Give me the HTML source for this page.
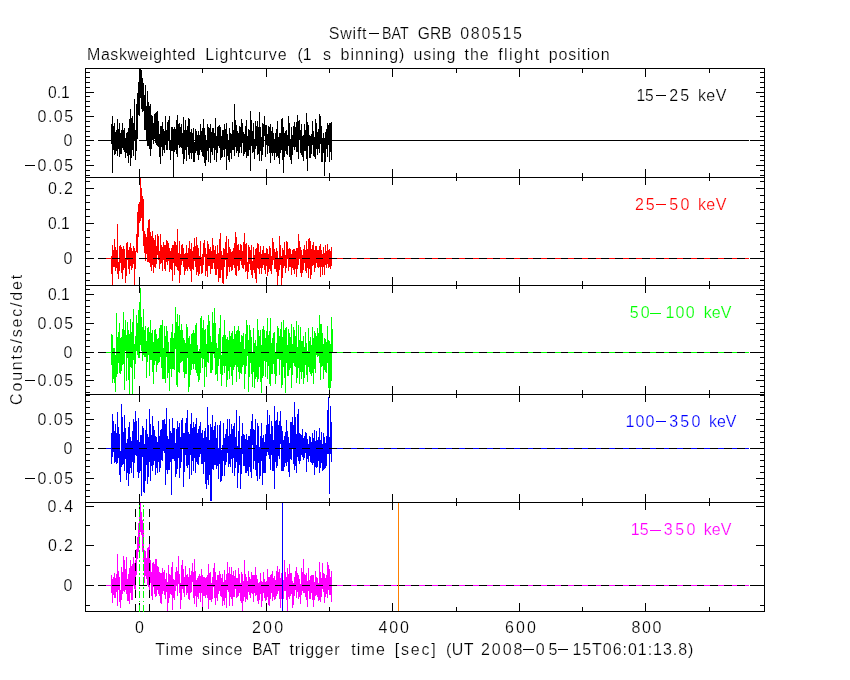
<!DOCTYPE html>
<html lang="en">
<head>
<meta charset="utf-8">
<title>Swift-BAT GRB 080515 Maskweighted Lightcurve</title>
<style>
html,body{margin:0;padding:0;background:#fff;}
body{width:850px;height:680px;overflow:hidden;position:relative;font-family:"Liberation Sans",sans-serif;}
svg{display:block;}
#plot{position:absolute;left:0;top:0;}
</style>
</head>
<body>
<div id="plot">
<svg width="850" height="680" viewBox="0 0 850 680" shape-rendering="crispEdges">
<rect x="0" y="0" width="850" height="680" fill="#fff"/>
<rect x="106" y="140" width="6" height="1" fill="#000"/>
<rect x="331" y="140" width="418" height="1" fill="#000"/>
<rect x="106" y="258" width="6" height="1" fill="#f00"/>
<rect x="331" y="258" width="418" height="1" fill="#f00"/>
<rect x="106" y="352" width="6" height="1" fill="#0f0"/>
<rect x="331" y="352" width="418" height="1" fill="#0f0"/>
<rect x="106" y="448" width="6" height="1" fill="#00f"/>
<rect x="331" y="448" width="418" height="1" fill="#00f"/>
<rect x="106" y="585" width="6" height="1" fill="#f0f"/>
<rect x="331" y="585" width="418" height="1" fill="#f0f"/>
<path d="M111 124v20M112 116v57M113 126v24M114 123v32M115 132v22M116 130v21M117 119v37M118 129v20M119 123v34M120 133v21M121 130v24M122 123v25M123 130v20M124 128v24M125 138v20M126 133v20M127 132v24M128 128v35M129 119v36M130 109v57M131 118v40M132 116v34M133 123v33M134 99v42M135 130v30M136 104v47M137 93v46M138 82v33M139 69v47M140 69v29M141 70v39M142 78v34M143 83v28M144 95v35M145 85v45M146 106v35M147 91v55M148 102v44M149 106v43M150 104v52M151 115v34M152 116v24M153 123v21M154 114v25M155 113v30M156 112v33M157 111v35M158 121v26M159 134v23M160 126v38M161 126v21M162 122v34M163 129v21M164 131v22M165 116v29M166 130v20M167 122v28M168 120v20M169 116v34M170 140v20M171 127v24M172 127v24M173 129v48M174 127v25M175 129v21M176 120v34M177 115v42M178 124v21M179 123v25M180 127v20M181 124v24M182 133v21M183 117v47M184 130v29M185 120v30M186 130v31M187 126v21M188 118v37M189 119v40M190 132v21M191 129v30M192 133v20M193 128v34M194 142v20M195 129v24M196 131v20M197 135v20M198 131v29M199 135v20M200 124v26M201 131v21M202 128v28M203 119v38M204 128v35M205 135v31M206 140v20M207 124v27M208 127v35M209 128v20M210 124v39M211 132v20M212 128v27M213 128v20M214 133v27M215 118v32M216 136v26M217 127v26M218 126v20M219 125v23M220 127v33M221 136v22M222 130v27M223 130v20M224 124v33M225 129v20M226 123v47M227 134v22M228 140v20M229 128v34M230 133v20M231 134v25M232 122v28M233 130v20M234 104v52M235 120v27M236 125v28M237 131v20M238 133v24M239 126v27M240 127v20M241 119v34M242 123v20M243 132v24M244 134v20M245 126v26M246 120v38M247 136v20M248 129v27M249 130v20M250 111v60M251 120v26M252 131v22M253 123v29M254 139v20M255 121v28M256 126v20M257 121v34M258 127v27M259 112v49M260 127v24M261 137v24M262 123v32M263 124v23M264 116v20M265 125v32M266 125v20M267 134v20M268 126v20M269 127v26M270 124v39M271 131v22M272 127v29M273 133v20M274 139v21M275 133v20M276 129v28M277 121v35M278 137v21M279 133v31M280 133v20M281 119v31M282 118v42M283 127v46M284 133v24M285 131v20M286 130v24M287 135v20M288 116v30M289 123v34M290 139v21M291 127v37M292 135v20M293 126v21M294 122v28M295 127v20M296 122v30M297 115v37M298 121v38M299 120v20M300 130v23M301 124v31M302 136v21M303 135v26M304 124v27M305 130v21M306 113v46M307 122v49M308 125v21M309 135v23M310 136v22M311 134v20M312 121v24M313 131v25M314 137v20M315 119v40M316 123v26M317 132v23M318 129v20M319 114v39M320 116v28M321 126v36M322 138v24M323 133v20M324 138v38M325 132v30M326 129v20M327 123v34M328 125v20M329 123v39M330 123v29M331 122v38" stroke="#000" stroke-width="1" fill="none" transform="translate(0.5 0)"/>
<path d="M111 256v18M112 245v40M113 250v17M114 239v28M115 247v24M116 250v18M117 224v50M118 262v17M119 246v25M120 245v18M121 247v26M122 249v30M123 246v24M124 249v19M125 258v25M126 243v33M127 242v18M128 250v19M129 247v27M130 243v23M131 248v22M132 251v17M133 246v18M134 248v37M135 251v18M136 234v18M137 212v41M138 204v33M139 202v21M140 178v43M141 188v30M142 196v35M143 199v47M144 231v22M145 234v27M146 237v17M147 228v34M148 220v42M149 219v44M150 232v35M151 236v35M152 231v34M153 238v35M154 240v27M155 235v33M156 246v18M157 234v21M158 236v24M159 251v18M160 234v30M161 245v18M162 247v24M163 242v18M164 245v24M165 245v26M166 240v22M167 241v24M168 243v18M169 248v24M170 251v18M171 248v22M172 245v36M173 245v18M174 241v34M175 242v24M176 245v22M177 229v41M178 253v18M179 241v42M180 254v21M181 245v20M182 244v17M183 248v19M184 254v21M185 253v18M186 245v24M187 253v18M188 248v19M189 241v28M190 249v22M191 243v39M192 251v18M193 247v23M194 238v23M195 246v21M196 237v38M197 245v27M198 248v28M199 256v18M200 241v25M201 257v17M202 254v19M203 243v22M204 240v17M205 248v28M206 254v17M207 241v36M208 244v22M209 249v17M210 247v27M211 251v18M212 238v31M213 245v18M214 250v19M215 246v29M216 254v21M217 245v24M218 253v29M219 239v39M220 233v45M221 251v19M222 255v28M223 248v36M224 249v18M225 242v18M226 236v43M227 253v23M228 239v28M229 247v25M230 249v18M231 252v19M232 251v19M233 248v17M234 243v25M235 232v43M236 237v39M237 245v21M238 244v27M239 250v20M240 244v17M241 245v20M242 251v17M243 242v27M244 233v32M245 244v28M246 243v28M247 262v17M248 245v27M249 247v17M250 250v20M251 245v30M252 261v17M253 247v23M254 255v18M255 249v30M256 248v35M257 243v25M258 244v25M259 252v22M260 246v22M261 254v20M262 250v18M263 246v19M264 253v17M265 253v21M266 248v18M267 249v27M268 254v18M269 246v23M270 248v23M271 256v18M272 238v27M273 242v18M274 249v20M275 252v17M276 248v24M277 251v34M278 258v18M279 236v34M280 245v20M281 256v29M282 248v30M283 250v18M284 242v24M285 255v18M286 241v27M287 242v17M288 249v22M289 248v19M290 249v18M291 254v21M292 250v18M293 249v21M294 249v25M295 251v18M296 248v29M297 248v21M298 234v31M299 241v18M300 247v26M301 250v27M302 255v18M303 249v21M304 245v18M305 250v21M306 241v32M307 249v19M308 239v39M309 238v31M310 241v38M311 249v26M312 245v21M313 242v23M314 250v22M315 246v22M316 246v17M317 250v17M318 250v18M319 246v21M320 244v33M321 250v17M322 254v21M323 247v20M324 253v22M325 245v20M326 251v17M327 244v20M328 250v18M329 249v18M330 251v18M331 247v19" stroke="#f00" stroke-width="1" fill="none" transform="translate(0.5 0)"/>
<path d="M111 334v31M112 335v48M113 348v31M114 348v35M115 355v37M116 313v64M117 337v37M118 332v31M119 323v50M120 338v36M121 337v34M122 329v36M123 312v52M124 330v60M125 320v31M126 335v46M127 322v36M128 330v50M129 334v60M130 319v48M131 332v36M132 322v72M133 309v51M134 344v35M135 336v28M136 315v36M137 323v32M138 310v48M139 302v56M140 288v57M141 317v34M142 327v34M143 309v46M144 330v27M145 326v31M146 341v37M147 328v34M148 327v28M149 332v44M150 320v40M151 333v27M152 330v42M153 342v42M154 330v35M155 329v32M156 334v38M157 339v26M158 338v25M159 328v34M160 325v32M161 325v43M162 320v59M163 348v31M164 326v53M165 336v47M166 326v31M167 331v47M168 342v31M169 353v38M170 338v31M171 332v45M172 324v45M173 338v31M174 333v37M175 307v42M176 322v63M177 314v73M178 326v46M179 315v58M180 330v33M181 324v38M182 330v31M183 338v34M184 340v38M185 343v31M186 324v50M187 327v31M188 338v54M189 336v51M190 344v31M191 334v36M192 333v31M193 330v39M194 333v31M195 325v45M196 323v50M197 345v31M198 351v31M199 349v31M200 318v55M201 316v42M202 328v40M203 320v39M204 330v57M205 329v38M206 344v33M207 325v37M208 315v48M209 321v31M210 336v37M211 342v31M212 312v58M213 323v31M214 308v50M215 323v52M216 343v31M217 348v33M218 334v32M219 328v31M220 315v59M221 355v31M222 337v38M223 335v31M224 320v53M225 335v31M226 339v48M227 337v43M228 340v31M229 331v48M230 336v31M231 333v43M232 331v54M233 339v31M234 326v41M235 334v31M236 331v51M237 330v37M238 326v46M239 331v48M240 342v31M241 335v39M242 336v31M243 333v32M244 349v40M245 334v40M246 320v46M247 325v31M248 340v52M249 325v52M250 330v33M251 337v37M252 352v35M253 328v44M254 343v45M255 340v39M256 346v31M257 319v63M258 330v49M259 336v31M260 330v52M261 345v48M262 329v49M263 326v50M264 330v31M265 338v39M266 331v31M267 318v61M268 335v31M269 331v53M270 318v68M271 343v31M272 338v36M273 333v31M274 332v42M275 353v31M276 343v33M277 326v33M278 328v31M279 336v39M280 329v31M281 322v66M282 337v48M283 320v47M284 330v48M285 328v65M286 327v36M287 345v31M288 329v47M289 333v37M290 337v31M291 324v64M292 344v31M293 327v36M294 330v36M295 336v31M296 321v62M297 347v31M298 325v43M299 340v44M300 327v45M301 341v38M302 341v31M303 336v48M304 347v31M305 332v33M306 343v32M307 351v31M308 328v39M309 341v31M310 337v37M311 345v31M312 327v46M313 338v46M314 331v38M315 333v40M316 336v19M317 328v29M318 333v23M319 315v48M320 324v56M321 324v43M322 333v33M323 344v35M324 338v32M325 339v33M326 342v31M327 326v37M328 340v48M329 341v53M330 344v44M331 317v64M332 329v24" stroke="#0f0" stroke-width="1" fill="none" transform="translate(0.5 0)"/>
<path d="M111 433v31M112 414v43M113 421v31M114 431v32M115 424v38M116 433v31M117 412v51M118 427v31M119 434v41M120 451v31M121 404v63M122 417v48M123 432v32M124 415v56M125 428v31M126 443v37M127 439v34M128 427v59M129 422v52M130 437v31M131 441v32M132 431v31M133 419v59M134 422v41M135 411v44M136 421v35M137 440v32M138 418v60M139 442v31M140 435v36M141 435v61M142 426v31M143 428v64M144 444v49M145 430v51M146 419v46M147 434v50M148 437v40M149 409v53M150 424v57M151 435v31M152 416v55M153 426v39M154 430v31M155 436v39M156 437v31M157 442v31M158 421v41M159 436v36M160 430v38M161 429v31M162 420v41M163 420v31M164 419v34M165 424v61M166 408v62M167 436v38M168 439v31M169 419v51M170 431v31M171 433v62M172 418v41M173 428v31M174 428v33M175 443v34M176 429v45M177 421v48M178 427v31M179 423v55M180 437v31M181 420v42M182 418v31M183 433v54M184 433v39M185 423v32M186 418v48M187 410v58M188 432v33M189 434v45M190 424v31M191 413v62M192 428v33M193 422v49M194 427v31M195 424v49M196 418v44M197 433v31M198 429v36M199 426v31M200 422v32M201 433v31M202 430v34M203 438v36M204 431v31M205 428v56M206 437v52M207 407v73M208 425v60M209 440v35M210 424v77M211 427v74M212 415v54M213 430v40M214 426v39M215 422v43M216 438v31M217 425v41M218 448v31M219 425v39M220 421v61M221 450v31M222 445v31M223 423v38M224 438v38M225 434v31M226 429v33M227 419v34M228 436v31M229 419v45M230 434v33M231 424v35M232 429v44M233 426v32M234 423v53M235 437v31M236 410v52M237 446v42M238 431v42M239 416v49M240 449v40M241 436v38M242 423v31M243 434v32M244 435v31M245 439v34M246 434v39M247 440v31M248 436v40M249 436v31M250 429v43M251 421v57M252 414v31M253 429v40M254 430v31M255 419v51M256 445v31M257 423v58M258 426v37M259 447v32M260 436v40M261 423v38M262 438v47M263 435v38M264 442v31M265 434v39M266 425v31M267 410v42M268 424v31M269 415v44M270 434v36M271 421v34M272 426v45M273 440v31M274 406v83M275 421v41M276 420v48M277 412v54M278 425v31M279 421v38M280 411v33M281 426v45M282 431v40M283 440v31M284 436v31M285 432v31M286 420v46M287 431v31M288 437v35M289 443v34M290 422v37M291 422v38M292 417v31M293 425v39M294 402v68M295 417v49M296 434v39M297 414v43M298 409v52M299 433v31M300 434v27M301 435v20M302 429v28M303 438v22M304 436v22M305 432v21M306 433v39M307 439v20M308 444v18M309 436v20M310 437v25M311 442v21M312 433v32M313 438v25M314 430v45M315 441v26M316 431v37M317 440v27M318 437v24M319 428v45M320 440v28M321 432v31M322 444v27M323 433v37M324 437v32M325 443v25M326 436v30M327 410v44M328 397v57M329 437v57M330 406v48M331 422v40" stroke="#00f" stroke-width="1" fill="none" transform="translate(0.5 0)"/>
<path d="M111 575v18M112 579v24M113 577v18M114 573v25M115 578v20M116 574v18M117 554v52M118 571v19M119 577v25M120 590v18M121 567v33M122 572v22M123 556v35M124 560v32M125 569v21M126 557v37M127 579v22M128 574v27M129 568v36M130 560v33M131 566v34M132 564v36M133 557v29M134 563v26M135 560v31M136 549v26M137 537v22M138 523v29M139 504v44M140 503v29M141 512v23M142 520v32M143 527v34M144 550v33M145 551v25M146 558v21M147 548v37M148 547v40M149 544v47M150 560v23M151 572v24M152 563v37M153 562v25M154 564v30M155 559v38M156 559v37M157 566v24M158 567v27M159 572v24M160 573v30M161 573v31M162 568v26M163 572v19M164 570v25M165 579v20M166 573v19M167 582v29M168 565v38M169 574v24M170 575v19M171 567v28M172 562v48M173 579v19M174 580v20M175 572v19M176 567v19M177 571v25M178 556v28M179 574v19M180 583v26M181 565v35M182 560v29M183 569v24M184 577v20M185 566v20M186 575v20M187 574v19M188 577v22M189 568v32M190 575v18M191 571v21M192 563v19M193 572v26M194 559v45M195 571v25M196 580v27M197 578v19M198 576v23M199 574v19M200 576v26M201 569v24M202 575v34M203 577v19M204 577v19M205 578v20M206 577v18M207 575v23M208 564v45M209 573v27M210 572v28M211 583v19M212 577v22M213 568v19M214 563v35M215 572v33M216 580v18M217 575v26M218 575v19M219 571v20M220 574v22M221 578v19M222 574v32M223 582v19M224 570v35M225 580v18M226 574v34M227 562v28M228 573v19M229 567v39M230 574v23M231 567v32M232 575v31M233 571v26M234 576v21M235 570v19M236 578v20M237 578v19M238 568v28M239 574v19M240 583v18M241 572v31M242 574v37M243 581v20M244 560v37M245 574v28M246 577v22M247 581v19M248 571v21M249 577v18M250 579v19M251 572v21M252 575v19M253 575v27M254 575v18M255 567v29M256 575v20M257 579v22M258 583v21M259 582v18M260 573v21M261 581v26M262 582v19M263 572v21M264 579v19M265 582v19M266 581v19M267 569v28M268 577v28M269 577v29M270 575v24M271 574v19M272 571v30M273 578v19M274 576v24M275 580v19M276 571v25M277 566v28M278 572v19M279 569v30M280 578v30M281 573v26M282 569v23M283 580v19M284 560v31M285 572v19M286 577v23M287 568v43M288 574v23M289 564v35M290 573v23M291 573v21M292 581v27M293 583v22M294 577v19M295 571v19M296 567v31M297 573v19M298 575v24M299 579v18M300 584v20M301 568v27M302 572v19M303 559v34M304 574v19M305 575v22M306 573v27M307 581v26M308 568v23M309 580v19M310 576v23M311 575v18M312 575v25M313 575v32M314 582v18M315 571v25M316 577v18M317 578v19M318 583v18M319 562v38M320 572v30M321 578v19M322 563v26M323 573v19M324 574v29M325 578v19M326 575v19M327 562v36M328 565v25M329 569v26M330 577v18M331 571v31" stroke="#f0f" stroke-width="1" fill="none" transform="translate(0.5 0)"/>
<rect x="85" y="140" width="7" height="1" fill="#000"/>
<rect x="98" y="140" width="8" height="1" fill="#000"/>
<rect x="112" y="140" width="8" height="1" fill="#000"/>
<rect x="125" y="140" width="8" height="1" fill="#000"/>
<rect x="139" y="140" width="8" height="1" fill="#000"/>
<rect x="153" y="140" width="7" height="1" fill="#000"/>
<rect x="166" y="140" width="8" height="1" fill="#000"/>
<rect x="180" y="140" width="8" height="1" fill="#000"/>
<rect x="193" y="140" width="8" height="1" fill="#000"/>
<rect x="207" y="140" width="8" height="1" fill="#000"/>
<rect x="221" y="140" width="7" height="1" fill="#000"/>
<rect x="234" y="140" width="8" height="1" fill="#000"/>
<rect x="248" y="140" width="7" height="1" fill="#000"/>
<rect x="261" y="140" width="8" height="1" fill="#000"/>
<rect x="275" y="140" width="8" height="1" fill="#000"/>
<rect x="289" y="140" width="7" height="1" fill="#000"/>
<rect x="302" y="140" width="8" height="1" fill="#000"/>
<rect x="316" y="140" width="7" height="1" fill="#000"/>
<rect x="329" y="140" width="8" height="1" fill="#000"/>
<rect x="343" y="140" width="8" height="1" fill="#000"/>
<rect x="357" y="140" width="7" height="1" fill="#000"/>
<rect x="370" y="140" width="8" height="1" fill="#000"/>
<rect x="384" y="140" width="7" height="1" fill="#000"/>
<rect x="397" y="140" width="8" height="1" fill="#000"/>
<rect x="411" y="140" width="8" height="1" fill="#000"/>
<rect x="425" y="140" width="7" height="1" fill="#000"/>
<rect x="438" y="140" width="8" height="1" fill="#000"/>
<rect x="452" y="140" width="7" height="1" fill="#000"/>
<rect x="465" y="140" width="8" height="1" fill="#000"/>
<rect x="479" y="140" width="8" height="1" fill="#000"/>
<rect x="493" y="140" width="7" height="1" fill="#000"/>
<rect x="506" y="140" width="8" height="1" fill="#000"/>
<rect x="520" y="140" width="8" height="1" fill="#000"/>
<rect x="533" y="140" width="8" height="1" fill="#000"/>
<rect x="547" y="140" width="8" height="1" fill="#000"/>
<rect x="561" y="140" width="7" height="1" fill="#000"/>
<rect x="574" y="140" width="8" height="1" fill="#000"/>
<rect x="588" y="140" width="8" height="1" fill="#000"/>
<rect x="601" y="140" width="8" height="1" fill="#000"/>
<rect x="615" y="140" width="8" height="1" fill="#000"/>
<rect x="629" y="140" width="7" height="1" fill="#000"/>
<rect x="642" y="140" width="8" height="1" fill="#000"/>
<rect x="656" y="140" width="8" height="1" fill="#000"/>
<rect x="669" y="140" width="8" height="1" fill="#000"/>
<rect x="683" y="140" width="8" height="1" fill="#000"/>
<rect x="697" y="140" width="7" height="1" fill="#000"/>
<rect x="710" y="140" width="8" height="1" fill="#000"/>
<rect x="724" y="140" width="8" height="1" fill="#000"/>
<rect x="737" y="140" width="8" height="1" fill="#000"/>
<rect x="751" y="140" width="8" height="1" fill="#000"/>
<rect x="85" y="258" width="7" height="1" fill="#000"/>
<rect x="98" y="258" width="8" height="1" fill="#000"/>
<rect x="112" y="258" width="8" height="1" fill="#000"/>
<rect x="125" y="258" width="8" height="1" fill="#000"/>
<rect x="139" y="258" width="8" height="1" fill="#000"/>
<rect x="153" y="258" width="7" height="1" fill="#000"/>
<rect x="166" y="258" width="8" height="1" fill="#000"/>
<rect x="180" y="258" width="8" height="1" fill="#000"/>
<rect x="193" y="258" width="8" height="1" fill="#000"/>
<rect x="207" y="258" width="8" height="1" fill="#000"/>
<rect x="221" y="258" width="7" height="1" fill="#000"/>
<rect x="234" y="258" width="8" height="1" fill="#000"/>
<rect x="248" y="258" width="7" height="1" fill="#000"/>
<rect x="261" y="258" width="8" height="1" fill="#000"/>
<rect x="275" y="258" width="8" height="1" fill="#000"/>
<rect x="289" y="258" width="7" height="1" fill="#000"/>
<rect x="302" y="258" width="8" height="1" fill="#000"/>
<rect x="316" y="258" width="7" height="1" fill="#000"/>
<rect x="329" y="258" width="8" height="1" fill="#000"/>
<rect x="343" y="258" width="8" height="1" fill="#000"/>
<rect x="357" y="258" width="7" height="1" fill="#000"/>
<rect x="370" y="258" width="8" height="1" fill="#000"/>
<rect x="384" y="258" width="7" height="1" fill="#000"/>
<rect x="397" y="258" width="8" height="1" fill="#000"/>
<rect x="411" y="258" width="8" height="1" fill="#000"/>
<rect x="425" y="258" width="7" height="1" fill="#000"/>
<rect x="438" y="258" width="8" height="1" fill="#000"/>
<rect x="452" y="258" width="7" height="1" fill="#000"/>
<rect x="465" y="258" width="8" height="1" fill="#000"/>
<rect x="479" y="258" width="8" height="1" fill="#000"/>
<rect x="493" y="258" width="7" height="1" fill="#000"/>
<rect x="506" y="258" width="8" height="1" fill="#000"/>
<rect x="520" y="258" width="8" height="1" fill="#000"/>
<rect x="533" y="258" width="8" height="1" fill="#000"/>
<rect x="547" y="258" width="8" height="1" fill="#000"/>
<rect x="561" y="258" width="7" height="1" fill="#000"/>
<rect x="574" y="258" width="8" height="1" fill="#000"/>
<rect x="588" y="258" width="8" height="1" fill="#000"/>
<rect x="601" y="258" width="8" height="1" fill="#000"/>
<rect x="615" y="258" width="8" height="1" fill="#000"/>
<rect x="629" y="258" width="7" height="1" fill="#000"/>
<rect x="642" y="258" width="8" height="1" fill="#000"/>
<rect x="656" y="258" width="8" height="1" fill="#000"/>
<rect x="669" y="258" width="8" height="1" fill="#000"/>
<rect x="683" y="258" width="8" height="1" fill="#000"/>
<rect x="697" y="258" width="7" height="1" fill="#000"/>
<rect x="710" y="258" width="8" height="1" fill="#000"/>
<rect x="724" y="258" width="8" height="1" fill="#000"/>
<rect x="737" y="258" width="8" height="1" fill="#000"/>
<rect x="751" y="258" width="8" height="1" fill="#000"/>
<rect x="85" y="352" width="7" height="1" fill="#000"/>
<rect x="98" y="352" width="8" height="1" fill="#000"/>
<rect x="112" y="352" width="8" height="1" fill="#000"/>
<rect x="125" y="352" width="8" height="1" fill="#000"/>
<rect x="139" y="352" width="8" height="1" fill="#000"/>
<rect x="153" y="352" width="7" height="1" fill="#000"/>
<rect x="166" y="352" width="8" height="1" fill="#000"/>
<rect x="180" y="352" width="8" height="1" fill="#000"/>
<rect x="193" y="352" width="8" height="1" fill="#000"/>
<rect x="207" y="352" width="8" height="1" fill="#000"/>
<rect x="221" y="352" width="7" height="1" fill="#000"/>
<rect x="234" y="352" width="8" height="1" fill="#000"/>
<rect x="248" y="352" width="7" height="1" fill="#000"/>
<rect x="261" y="352" width="8" height="1" fill="#000"/>
<rect x="275" y="352" width="8" height="1" fill="#000"/>
<rect x="289" y="352" width="7" height="1" fill="#000"/>
<rect x="302" y="352" width="8" height="1" fill="#000"/>
<rect x="316" y="352" width="7" height="1" fill="#000"/>
<rect x="329" y="352" width="8" height="1" fill="#000"/>
<rect x="343" y="352" width="8" height="1" fill="#000"/>
<rect x="357" y="352" width="7" height="1" fill="#000"/>
<rect x="370" y="352" width="8" height="1" fill="#000"/>
<rect x="384" y="352" width="7" height="1" fill="#000"/>
<rect x="397" y="352" width="8" height="1" fill="#000"/>
<rect x="411" y="352" width="8" height="1" fill="#000"/>
<rect x="425" y="352" width="7" height="1" fill="#000"/>
<rect x="438" y="352" width="8" height="1" fill="#000"/>
<rect x="452" y="352" width="7" height="1" fill="#000"/>
<rect x="465" y="352" width="8" height="1" fill="#000"/>
<rect x="479" y="352" width="8" height="1" fill="#000"/>
<rect x="493" y="352" width="7" height="1" fill="#000"/>
<rect x="506" y="352" width="8" height="1" fill="#000"/>
<rect x="520" y="352" width="8" height="1" fill="#000"/>
<rect x="533" y="352" width="8" height="1" fill="#000"/>
<rect x="547" y="352" width="8" height="1" fill="#000"/>
<rect x="561" y="352" width="7" height="1" fill="#000"/>
<rect x="574" y="352" width="8" height="1" fill="#000"/>
<rect x="588" y="352" width="8" height="1" fill="#000"/>
<rect x="601" y="352" width="8" height="1" fill="#000"/>
<rect x="615" y="352" width="8" height="1" fill="#000"/>
<rect x="629" y="352" width="7" height="1" fill="#000"/>
<rect x="642" y="352" width="8" height="1" fill="#000"/>
<rect x="656" y="352" width="8" height="1" fill="#000"/>
<rect x="669" y="352" width="8" height="1" fill="#000"/>
<rect x="683" y="352" width="8" height="1" fill="#000"/>
<rect x="697" y="352" width="7" height="1" fill="#000"/>
<rect x="710" y="352" width="8" height="1" fill="#000"/>
<rect x="724" y="352" width="8" height="1" fill="#000"/>
<rect x="737" y="352" width="8" height="1" fill="#000"/>
<rect x="751" y="352" width="8" height="1" fill="#000"/>
<rect x="85" y="448" width="7" height="1" fill="#000"/>
<rect x="98" y="448" width="8" height="1" fill="#000"/>
<rect x="112" y="448" width="8" height="1" fill="#000"/>
<rect x="125" y="448" width="8" height="1" fill="#000"/>
<rect x="139" y="448" width="8" height="1" fill="#000"/>
<rect x="153" y="448" width="7" height="1" fill="#000"/>
<rect x="166" y="448" width="8" height="1" fill="#000"/>
<rect x="180" y="448" width="8" height="1" fill="#000"/>
<rect x="193" y="448" width="8" height="1" fill="#000"/>
<rect x="207" y="448" width="8" height="1" fill="#000"/>
<rect x="221" y="448" width="7" height="1" fill="#000"/>
<rect x="234" y="448" width="8" height="1" fill="#000"/>
<rect x="248" y="448" width="7" height="1" fill="#000"/>
<rect x="261" y="448" width="8" height="1" fill="#000"/>
<rect x="275" y="448" width="8" height="1" fill="#000"/>
<rect x="289" y="448" width="7" height="1" fill="#000"/>
<rect x="302" y="448" width="8" height="1" fill="#000"/>
<rect x="316" y="448" width="7" height="1" fill="#000"/>
<rect x="329" y="448" width="8" height="1" fill="#000"/>
<rect x="343" y="448" width="8" height="1" fill="#000"/>
<rect x="357" y="448" width="7" height="1" fill="#000"/>
<rect x="370" y="448" width="8" height="1" fill="#000"/>
<rect x="384" y="448" width="7" height="1" fill="#000"/>
<rect x="397" y="448" width="8" height="1" fill="#000"/>
<rect x="411" y="448" width="8" height="1" fill="#000"/>
<rect x="425" y="448" width="7" height="1" fill="#000"/>
<rect x="438" y="448" width="8" height="1" fill="#000"/>
<rect x="452" y="448" width="7" height="1" fill="#000"/>
<rect x="465" y="448" width="8" height="1" fill="#000"/>
<rect x="479" y="448" width="8" height="1" fill="#000"/>
<rect x="493" y="448" width="7" height="1" fill="#000"/>
<rect x="506" y="448" width="8" height="1" fill="#000"/>
<rect x="520" y="448" width="8" height="1" fill="#000"/>
<rect x="533" y="448" width="8" height="1" fill="#000"/>
<rect x="547" y="448" width="8" height="1" fill="#000"/>
<rect x="561" y="448" width="7" height="1" fill="#000"/>
<rect x="574" y="448" width="8" height="1" fill="#000"/>
<rect x="588" y="448" width="8" height="1" fill="#000"/>
<rect x="601" y="448" width="8" height="1" fill="#000"/>
<rect x="615" y="448" width="8" height="1" fill="#000"/>
<rect x="629" y="448" width="7" height="1" fill="#000"/>
<rect x="642" y="448" width="8" height="1" fill="#000"/>
<rect x="656" y="448" width="8" height="1" fill="#000"/>
<rect x="669" y="448" width="8" height="1" fill="#000"/>
<rect x="683" y="448" width="8" height="1" fill="#000"/>
<rect x="697" y="448" width="7" height="1" fill="#000"/>
<rect x="710" y="448" width="8" height="1" fill="#000"/>
<rect x="724" y="448" width="8" height="1" fill="#000"/>
<rect x="737" y="448" width="8" height="1" fill="#000"/>
<rect x="751" y="448" width="8" height="1" fill="#000"/>
<rect x="85" y="585" width="7" height="1" fill="#000"/>
<rect x="98" y="585" width="8" height="1" fill="#000"/>
<rect x="112" y="585" width="8" height="1" fill="#000"/>
<rect x="125" y="585" width="8" height="1" fill="#000"/>
<rect x="139" y="585" width="8" height="1" fill="#000"/>
<rect x="153" y="585" width="7" height="1" fill="#000"/>
<rect x="166" y="585" width="8" height="1" fill="#000"/>
<rect x="180" y="585" width="8" height="1" fill="#000"/>
<rect x="193" y="585" width="8" height="1" fill="#000"/>
<rect x="207" y="585" width="8" height="1" fill="#000"/>
<rect x="221" y="585" width="7" height="1" fill="#000"/>
<rect x="234" y="585" width="8" height="1" fill="#000"/>
<rect x="248" y="585" width="7" height="1" fill="#000"/>
<rect x="261" y="585" width="8" height="1" fill="#000"/>
<rect x="275" y="585" width="8" height="1" fill="#000"/>
<rect x="289" y="585" width="7" height="1" fill="#000"/>
<rect x="302" y="585" width="8" height="1" fill="#000"/>
<rect x="316" y="585" width="7" height="1" fill="#000"/>
<rect x="329" y="585" width="8" height="1" fill="#000"/>
<rect x="343" y="585" width="8" height="1" fill="#000"/>
<rect x="357" y="585" width="7" height="1" fill="#000"/>
<rect x="370" y="585" width="8" height="1" fill="#000"/>
<rect x="384" y="585" width="7" height="1" fill="#000"/>
<rect x="397" y="585" width="8" height="1" fill="#000"/>
<rect x="411" y="585" width="8" height="1" fill="#000"/>
<rect x="425" y="585" width="7" height="1" fill="#000"/>
<rect x="438" y="585" width="8" height="1" fill="#000"/>
<rect x="452" y="585" width="7" height="1" fill="#000"/>
<rect x="465" y="585" width="8" height="1" fill="#000"/>
<rect x="479" y="585" width="8" height="1" fill="#000"/>
<rect x="493" y="585" width="7" height="1" fill="#000"/>
<rect x="506" y="585" width="8" height="1" fill="#000"/>
<rect x="520" y="585" width="8" height="1" fill="#000"/>
<rect x="533" y="585" width="8" height="1" fill="#000"/>
<rect x="547" y="585" width="8" height="1" fill="#000"/>
<rect x="561" y="585" width="7" height="1" fill="#000"/>
<rect x="574" y="585" width="8" height="1" fill="#000"/>
<rect x="588" y="585" width="8" height="1" fill="#000"/>
<rect x="601" y="585" width="8" height="1" fill="#000"/>
<rect x="615" y="585" width="8" height="1" fill="#000"/>
<rect x="629" y="585" width="7" height="1" fill="#000"/>
<rect x="642" y="585" width="8" height="1" fill="#000"/>
<rect x="656" y="585" width="8" height="1" fill="#000"/>
<rect x="669" y="585" width="8" height="1" fill="#000"/>
<rect x="683" y="585" width="8" height="1" fill="#000"/>
<rect x="697" y="585" width="7" height="1" fill="#000"/>
<rect x="710" y="585" width="8" height="1" fill="#000"/>
<rect x="724" y="585" width="8" height="1" fill="#000"/>
<rect x="737" y="585" width="8" height="1" fill="#000"/>
<rect x="751" y="585" width="8" height="1" fill="#000"/>
<rect x="750" y="140" width="15" height="1" fill="#000"/>
<rect x="85" y="140" width="9" height="1" fill="#000"/>
<rect x="750" y="258" width="15" height="1" fill="#000"/>
<rect x="85" y="258" width="9" height="1" fill="#000"/>
<rect x="750" y="352" width="15" height="1" fill="#000"/>
<rect x="85" y="352" width="9" height="1" fill="#000"/>
<rect x="750" y="448" width="15" height="1" fill="#000"/>
<rect x="85" y="448" width="9" height="1" fill="#000"/>
<rect x="750" y="585" width="15" height="1" fill="#000"/>
<rect x="85" y="585" width="9" height="1" fill="#000"/>
<rect x="85" y="68" width="680" height="1" fill="#000"/>
<rect x="85" y="177" width="680" height="1" fill="#000"/>
<rect x="85" y="285" width="680" height="1" fill="#000"/>
<rect x="85" y="394" width="680" height="1" fill="#000"/>
<rect x="85" y="502" width="680" height="1" fill="#000"/>
<rect x="85" y="611" width="680" height="1" fill="#000"/>
<rect x="85" y="68" width="1" height="544" fill="#000"/>
<rect x="764" y="68" width="1" height="544" fill="#000"/>
<rect x="139" y="68" width="1" height="9" fill="#000"/>
<rect x="266" y="68" width="1" height="9" fill="#000"/>
<rect x="392" y="68" width="1" height="9" fill="#000"/>
<rect x="519" y="68" width="1" height="9" fill="#000"/>
<rect x="645" y="68" width="1" height="9" fill="#000"/>
<rect x="202" y="68" width="1" height="5" fill="#000"/>
<rect x="329" y="68" width="1" height="5" fill="#000"/>
<rect x="456" y="68" width="1" height="5" fill="#000"/>
<rect x="582" y="68" width="1" height="5" fill="#000"/>
<rect x="709" y="68" width="1" height="5" fill="#000"/>
<rect x="139" y="169" width="1" height="16" fill="#000"/>
<rect x="266" y="169" width="1" height="16" fill="#000"/>
<rect x="392" y="169" width="1" height="16" fill="#000"/>
<rect x="519" y="169" width="1" height="16" fill="#000"/>
<rect x="645" y="169" width="1" height="16" fill="#000"/>
<rect x="202" y="173" width="1" height="8" fill="#000"/>
<rect x="329" y="173" width="1" height="8" fill="#000"/>
<rect x="456" y="173" width="1" height="8" fill="#000"/>
<rect x="582" y="173" width="1" height="8" fill="#000"/>
<rect x="709" y="173" width="1" height="8" fill="#000"/>
<rect x="139" y="277" width="1" height="16" fill="#000"/>
<rect x="266" y="277" width="1" height="16" fill="#000"/>
<rect x="392" y="277" width="1" height="16" fill="#000"/>
<rect x="519" y="277" width="1" height="16" fill="#000"/>
<rect x="645" y="277" width="1" height="16" fill="#000"/>
<rect x="202" y="281" width="1" height="8" fill="#000"/>
<rect x="329" y="281" width="1" height="8" fill="#000"/>
<rect x="456" y="281" width="1" height="8" fill="#000"/>
<rect x="582" y="281" width="1" height="8" fill="#000"/>
<rect x="709" y="281" width="1" height="8" fill="#000"/>
<rect x="139" y="386" width="1" height="16" fill="#000"/>
<rect x="266" y="386" width="1" height="16" fill="#000"/>
<rect x="392" y="386" width="1" height="16" fill="#000"/>
<rect x="519" y="386" width="1" height="16" fill="#000"/>
<rect x="645" y="386" width="1" height="16" fill="#000"/>
<rect x="202" y="390" width="1" height="8" fill="#000"/>
<rect x="329" y="390" width="1" height="8" fill="#000"/>
<rect x="456" y="390" width="1" height="8" fill="#000"/>
<rect x="582" y="390" width="1" height="8" fill="#000"/>
<rect x="709" y="390" width="1" height="8" fill="#000"/>
<rect x="139" y="494" width="1" height="16" fill="#000"/>
<rect x="266" y="494" width="1" height="16" fill="#000"/>
<rect x="392" y="494" width="1" height="16" fill="#000"/>
<rect x="519" y="494" width="1" height="16" fill="#000"/>
<rect x="645" y="494" width="1" height="16" fill="#000"/>
<rect x="202" y="498" width="1" height="8" fill="#000"/>
<rect x="329" y="498" width="1" height="8" fill="#000"/>
<rect x="456" y="498" width="1" height="8" fill="#000"/>
<rect x="582" y="498" width="1" height="8" fill="#000"/>
<rect x="709" y="498" width="1" height="8" fill="#000"/>
<rect x="139" y="603" width="1" height="9" fill="#000"/>
<rect x="266" y="603" width="1" height="9" fill="#000"/>
<rect x="392" y="603" width="1" height="9" fill="#000"/>
<rect x="519" y="603" width="1" height="9" fill="#000"/>
<rect x="645" y="603" width="1" height="9" fill="#000"/>
<rect x="202" y="607" width="1" height="5" fill="#000"/>
<rect x="329" y="607" width="1" height="5" fill="#000"/>
<rect x="456" y="607" width="1" height="5" fill="#000"/>
<rect x="582" y="607" width="1" height="5" fill="#000"/>
<rect x="709" y="607" width="1" height="5" fill="#000"/>
<rect x="85" y="72" width="5" height="1" fill="#000"/>
<rect x="760" y="72" width="5" height="1" fill="#000"/>
<rect x="85" y="77" width="5" height="1" fill="#000"/>
<rect x="760" y="77" width="5" height="1" fill="#000"/>
<rect x="85" y="82" width="5" height="1" fill="#000"/>
<rect x="760" y="82" width="5" height="1" fill="#000"/>
<rect x="85" y="87" width="5" height="1" fill="#000"/>
<rect x="760" y="87" width="5" height="1" fill="#000"/>
<rect x="85" y="92" width="9" height="1" fill="#000"/>
<rect x="756" y="92" width="9" height="1" fill="#000"/>
<rect x="85" y="96" width="5" height="1" fill="#000"/>
<rect x="760" y="96" width="5" height="1" fill="#000"/>
<rect x="85" y="101" width="5" height="1" fill="#000"/>
<rect x="760" y="101" width="5" height="1" fill="#000"/>
<rect x="85" y="106" width="5" height="1" fill="#000"/>
<rect x="760" y="106" width="5" height="1" fill="#000"/>
<rect x="85" y="111" width="5" height="1" fill="#000"/>
<rect x="760" y="111" width="5" height="1" fill="#000"/>
<rect x="85" y="116" width="9" height="1" fill="#000"/>
<rect x="756" y="116" width="9" height="1" fill="#000"/>
<rect x="85" y="121" width="5" height="1" fill="#000"/>
<rect x="760" y="121" width="5" height="1" fill="#000"/>
<rect x="85" y="126" width="5" height="1" fill="#000"/>
<rect x="760" y="126" width="5" height="1" fill="#000"/>
<rect x="85" y="131" width="5" height="1" fill="#000"/>
<rect x="760" y="131" width="5" height="1" fill="#000"/>
<rect x="85" y="136" width="5" height="1" fill="#000"/>
<rect x="760" y="136" width="5" height="1" fill="#000"/>
<rect x="85" y="140" width="9" height="1" fill="#000"/>
<rect x="756" y="140" width="9" height="1" fill="#000"/>
<rect x="85" y="145" width="5" height="1" fill="#000"/>
<rect x="760" y="145" width="5" height="1" fill="#000"/>
<rect x="85" y="150" width="5" height="1" fill="#000"/>
<rect x="760" y="150" width="5" height="1" fill="#000"/>
<rect x="85" y="155" width="5" height="1" fill="#000"/>
<rect x="760" y="155" width="5" height="1" fill="#000"/>
<rect x="85" y="160" width="5" height="1" fill="#000"/>
<rect x="760" y="160" width="5" height="1" fill="#000"/>
<rect x="85" y="165" width="9" height="1" fill="#000"/>
<rect x="756" y="165" width="9" height="1" fill="#000"/>
<rect x="85" y="170" width="5" height="1" fill="#000"/>
<rect x="760" y="170" width="5" height="1" fill="#000"/>
<rect x="85" y="175" width="5" height="1" fill="#000"/>
<rect x="760" y="175" width="5" height="1" fill="#000"/>
<rect x="85" y="181" width="5" height="1" fill="#000"/>
<rect x="760" y="181" width="5" height="1" fill="#000"/>
<rect x="85" y="188" width="9" height="1" fill="#000"/>
<rect x="756" y="188" width="9" height="1" fill="#000"/>
<rect x="85" y="195" width="5" height="1" fill="#000"/>
<rect x="760" y="195" width="5" height="1" fill="#000"/>
<rect x="85" y="202" width="5" height="1" fill="#000"/>
<rect x="760" y="202" width="5" height="1" fill="#000"/>
<rect x="85" y="209" width="5" height="1" fill="#000"/>
<rect x="760" y="209" width="5" height="1" fill="#000"/>
<rect x="85" y="216" width="5" height="1" fill="#000"/>
<rect x="760" y="216" width="5" height="1" fill="#000"/>
<rect x="85" y="223" width="9" height="1" fill="#000"/>
<rect x="756" y="223" width="9" height="1" fill="#000"/>
<rect x="85" y="230" width="5" height="1" fill="#000"/>
<rect x="760" y="230" width="5" height="1" fill="#000"/>
<rect x="85" y="237" width="5" height="1" fill="#000"/>
<rect x="760" y="237" width="5" height="1" fill="#000"/>
<rect x="85" y="244" width="5" height="1" fill="#000"/>
<rect x="760" y="244" width="5" height="1" fill="#000"/>
<rect x="85" y="251" width="5" height="1" fill="#000"/>
<rect x="760" y="251" width="5" height="1" fill="#000"/>
<rect x="85" y="258" width="9" height="1" fill="#000"/>
<rect x="756" y="258" width="9" height="1" fill="#000"/>
<rect x="85" y="266" width="5" height="1" fill="#000"/>
<rect x="760" y="266" width="5" height="1" fill="#000"/>
<rect x="85" y="273" width="5" height="1" fill="#000"/>
<rect x="760" y="273" width="5" height="1" fill="#000"/>
<rect x="85" y="280" width="5" height="1" fill="#000"/>
<rect x="760" y="280" width="5" height="1" fill="#000"/>
<rect x="85" y="289" width="5" height="1" fill="#000"/>
<rect x="760" y="289" width="5" height="1" fill="#000"/>
<rect x="85" y="294" width="9" height="1" fill="#000"/>
<rect x="756" y="294" width="9" height="1" fill="#000"/>
<rect x="85" y="300" width="5" height="1" fill="#000"/>
<rect x="760" y="300" width="5" height="1" fill="#000"/>
<rect x="85" y="306" width="5" height="1" fill="#000"/>
<rect x="760" y="306" width="5" height="1" fill="#000"/>
<rect x="85" y="312" width="5" height="1" fill="#000"/>
<rect x="760" y="312" width="5" height="1" fill="#000"/>
<rect x="85" y="317" width="5" height="1" fill="#000"/>
<rect x="760" y="317" width="5" height="1" fill="#000"/>
<rect x="85" y="323" width="9" height="1" fill="#000"/>
<rect x="756" y="323" width="9" height="1" fill="#000"/>
<rect x="85" y="329" width="5" height="1" fill="#000"/>
<rect x="760" y="329" width="5" height="1" fill="#000"/>
<rect x="85" y="334" width="5" height="1" fill="#000"/>
<rect x="760" y="334" width="5" height="1" fill="#000"/>
<rect x="85" y="340" width="5" height="1" fill="#000"/>
<rect x="760" y="340" width="5" height="1" fill="#000"/>
<rect x="85" y="346" width="5" height="1" fill="#000"/>
<rect x="760" y="346" width="5" height="1" fill="#000"/>
<rect x="85" y="352" width="9" height="1" fill="#000"/>
<rect x="756" y="352" width="9" height="1" fill="#000"/>
<rect x="85" y="357" width="5" height="1" fill="#000"/>
<rect x="760" y="357" width="5" height="1" fill="#000"/>
<rect x="85" y="363" width="5" height="1" fill="#000"/>
<rect x="760" y="363" width="5" height="1" fill="#000"/>
<rect x="85" y="369" width="5" height="1" fill="#000"/>
<rect x="760" y="369" width="5" height="1" fill="#000"/>
<rect x="85" y="375" width="5" height="1" fill="#000"/>
<rect x="760" y="375" width="5" height="1" fill="#000"/>
<rect x="85" y="380" width="9" height="1" fill="#000"/>
<rect x="756" y="380" width="9" height="1" fill="#000"/>
<rect x="85" y="386" width="5" height="1" fill="#000"/>
<rect x="760" y="386" width="5" height="1" fill="#000"/>
<rect x="85" y="392" width="5" height="1" fill="#000"/>
<rect x="760" y="392" width="5" height="1" fill="#000"/>
<rect x="85" y="395" width="5" height="1" fill="#000"/>
<rect x="760" y="395" width="5" height="1" fill="#000"/>
<rect x="85" y="401" width="5" height="1" fill="#000"/>
<rect x="760" y="401" width="5" height="1" fill="#000"/>
<rect x="85" y="407" width="5" height="1" fill="#000"/>
<rect x="760" y="407" width="5" height="1" fill="#000"/>
<rect x="85" y="413" width="5" height="1" fill="#000"/>
<rect x="760" y="413" width="5" height="1" fill="#000"/>
<rect x="85" y="419" width="9" height="1" fill="#000"/>
<rect x="756" y="419" width="9" height="1" fill="#000"/>
<rect x="85" y="425" width="5" height="1" fill="#000"/>
<rect x="760" y="425" width="5" height="1" fill="#000"/>
<rect x="85" y="431" width="5" height="1" fill="#000"/>
<rect x="760" y="431" width="5" height="1" fill="#000"/>
<rect x="85" y="437" width="5" height="1" fill="#000"/>
<rect x="760" y="437" width="5" height="1" fill="#000"/>
<rect x="85" y="442" width="5" height="1" fill="#000"/>
<rect x="760" y="442" width="5" height="1" fill="#000"/>
<rect x="85" y="448" width="9" height="1" fill="#000"/>
<rect x="756" y="448" width="9" height="1" fill="#000"/>
<rect x="85" y="454" width="5" height="1" fill="#000"/>
<rect x="760" y="454" width="5" height="1" fill="#000"/>
<rect x="85" y="460" width="5" height="1" fill="#000"/>
<rect x="760" y="460" width="5" height="1" fill="#000"/>
<rect x="85" y="466" width="5" height="1" fill="#000"/>
<rect x="760" y="466" width="5" height="1" fill="#000"/>
<rect x="85" y="472" width="5" height="1" fill="#000"/>
<rect x="760" y="472" width="5" height="1" fill="#000"/>
<rect x="85" y="478" width="9" height="1" fill="#000"/>
<rect x="756" y="478" width="9" height="1" fill="#000"/>
<rect x="85" y="484" width="5" height="1" fill="#000"/>
<rect x="760" y="484" width="5" height="1" fill="#000"/>
<rect x="85" y="490" width="5" height="1" fill="#000"/>
<rect x="760" y="490" width="5" height="1" fill="#000"/>
<rect x="85" y="496" width="5" height="1" fill="#000"/>
<rect x="760" y="496" width="5" height="1" fill="#000"/>
<rect x="85" y="506" width="9" height="1" fill="#000"/>
<rect x="756" y="506" width="9" height="1" fill="#000"/>
<rect x="85" y="525" width="5" height="1" fill="#000"/>
<rect x="760" y="525" width="5" height="1" fill="#000"/>
<rect x="85" y="545" width="9" height="1" fill="#000"/>
<rect x="756" y="545" width="9" height="1" fill="#000"/>
<rect x="85" y="565" width="5" height="1" fill="#000"/>
<rect x="760" y="565" width="5" height="1" fill="#000"/>
<rect x="85" y="585" width="9" height="1" fill="#000"/>
<rect x="756" y="585" width="9" height="1" fill="#000"/>
<rect x="85" y="605" width="5" height="1" fill="#000"/>
<rect x="760" y="605" width="5" height="1" fill="#000"/>
<rect x="282" y="503" width="1" height="108" fill="#00f"/>
<rect x="398" y="503" width="1" height="108" fill="#ff8000"/>
<rect x="135" y="604" width="1" height="8" fill="#000"/>
<rect x="135" y="590" width="1" height="8" fill="#000"/>
<rect x="135" y="577" width="1" height="8" fill="#000"/>
<rect x="135" y="563" width="1" height="8" fill="#000"/>
<rect x="135" y="550" width="1" height="8" fill="#000"/>
<rect x="135" y="536" width="1" height="8" fill="#000"/>
<rect x="135" y="522" width="1" height="8" fill="#000"/>
<rect x="135" y="509" width="1" height="8" fill="#000"/>
<rect x="149" y="604" width="1" height="8" fill="#000"/>
<rect x="149" y="590" width="1" height="8" fill="#000"/>
<rect x="149" y="577" width="1" height="8" fill="#000"/>
<rect x="149" y="563" width="1" height="8" fill="#000"/>
<rect x="149" y="550" width="1" height="8" fill="#000"/>
<rect x="149" y="536" width="1" height="8" fill="#000"/>
<rect x="149" y="522" width="1" height="8" fill="#000"/>
<rect x="149" y="509" width="1" height="8" fill="#000"/>
<rect x="139" y="605" width="1" height="7" fill="#0f0"/>
<rect x="139" y="601" width="1" height="1" fill="#0f0"/>
<rect x="139" y="591" width="1" height="7" fill="#0f0"/>
<rect x="139" y="587" width="1" height="2" fill="#0f0"/>
<rect x="139" y="577" width="1" height="8" fill="#0f0"/>
<rect x="139" y="573" width="1" height="2" fill="#0f0"/>
<rect x="139" y="564" width="1" height="7" fill="#0f0"/>
<rect x="139" y="560" width="1" height="2" fill="#0f0"/>
<rect x="139" y="550" width="1" height="8" fill="#0f0"/>
<rect x="139" y="546" width="1" height="2" fill="#0f0"/>
<rect x="139" y="537" width="1" height="7" fill="#0f0"/>
<rect x="139" y="533" width="1" height="1" fill="#0f0"/>
<rect x="139" y="523" width="1" height="7" fill="#0f0"/>
<rect x="139" y="519" width="1" height="2" fill="#0f0"/>
<rect x="139" y="509" width="1" height="8" fill="#0f0"/>
<rect x="139" y="505" width="1" height="2" fill="#0f0"/>
<rect x="143" y="605" width="1" height="7" fill="#0f0"/>
<rect x="143" y="601" width="1" height="1" fill="#0f0"/>
<rect x="143" y="591" width="1" height="7" fill="#0f0"/>
<rect x="143" y="587" width="1" height="2" fill="#0f0"/>
<rect x="143" y="577" width="1" height="8" fill="#0f0"/>
<rect x="143" y="573" width="1" height="2" fill="#0f0"/>
<rect x="143" y="564" width="1" height="7" fill="#0f0"/>
<rect x="143" y="560" width="1" height="2" fill="#0f0"/>
<rect x="143" y="550" width="1" height="8" fill="#0f0"/>
<rect x="143" y="546" width="1" height="2" fill="#0f0"/>
<rect x="143" y="537" width="1" height="7" fill="#0f0"/>
<rect x="143" y="533" width="1" height="1" fill="#0f0"/>
<rect x="143" y="523" width="1" height="7" fill="#0f0"/>
<rect x="143" y="519" width="1" height="2" fill="#0f0"/>
<rect x="143" y="509" width="1" height="8" fill="#0f0"/>
<rect x="143" y="505" width="1" height="2" fill="#0f0"/>
</svg>
</div>
<svg width="850" height="680" viewBox="0 0 850 680" style="position:absolute;left:0;top:0;will-change:transform;opacity:0.999" font-family="'Liberation Sans', sans-serif" stroke="#fff" stroke-width="0.2" stroke-linejoin="round"><text x="328.8" y="38.5" fill="#000" text-anchor="start" font-size="16" textLength="37.76" lengthAdjust="spacing">Swift</text>
<rect x="369" y="33" width="10" height="1" fill="#000" stroke="none" shape-rendering="crispEdges"/>
<text x="382.1" y="38.5" fill="#000" text-anchor="start" font-size="16" textLength="26.58" lengthAdjust="spacingAndGlyphs">BAT</text>
<text x="417.8" y="38.5" fill="#000" text-anchor="start" font-size="16" textLength="33.77" lengthAdjust="spacingAndGlyphs">GRB</text>
<text x="460.3" y="38.5" fill="#000" text-anchor="start" font-size="16" textLength="61.68" lengthAdjust="spacing">080515</text>
<text x="87.0" y="60" fill="#000" text-anchor="start" font-size="16" textLength="108.52" lengthAdjust="spacing">Maskweighted</text>
<text x="205.3" y="60" fill="#000" text-anchor="start" font-size="16" textLength="81.24" lengthAdjust="spacing">Lightcurve</text>
<text x="297.5" y="60" fill="#000" text-anchor="start" font-size="16" textLength="14.0" lengthAdjust="spacingAndGlyphs">(1</text>
<text x="322.9" y="60" fill="#000" text-anchor="start" font-size="16">s</text>
<text x="340.5" y="60" fill="#000" text-anchor="start" font-size="16" textLength="63.9" lengthAdjust="spacing">binning)</text>
<text x="413.4" y="60" fill="#000" text-anchor="start" font-size="16" textLength="41.94" lengthAdjust="spacing">using</text>
<text x="464.5" y="60" fill="#000" text-anchor="start" font-size="16" textLength="24.13" lengthAdjust="spacing">the</text>
<text x="498.2" y="60" fill="#000" text-anchor="start" font-size="16" textLength="41.06" lengthAdjust="spacing">flight</text>
<text x="548.7" y="60" fill="#000" text-anchor="start" font-size="16" textLength="61.03" lengthAdjust="spacing">position</text>
<text x="155.3" y="655" fill="#000" text-anchor="start" font-size="16" textLength="37.81" lengthAdjust="spacing">Time</text>
<text x="201.9" y="655" fill="#000" text-anchor="start" font-size="16" textLength="40.54" lengthAdjust="spacing">since</text>
<text x="252.4" y="655" fill="#000" text-anchor="start" font-size="16" textLength="28.17" lengthAdjust="spacingAndGlyphs">BAT</text>
<text x="289.4" y="655" fill="#000" text-anchor="start" font-size="16" textLength="50.22" lengthAdjust="spacing">trigger</text>
<text x="351.2" y="655" fill="#000" text-anchor="start" font-size="16" textLength="33.66" lengthAdjust="spacing">time</text>
<text x="394.8" y="655" fill="#000" text-anchor="start" font-size="16" textLength="40.98" lengthAdjust="spacing">[sec]</text>
<text x="446.0" y="655" fill="#000" text-anchor="start" font-size="16" textLength="27.43" lengthAdjust="spacing">(UT</text>
<text x="481.0" y="655" fill="#000" text-anchor="start" font-size="16" textLength="41.47" lengthAdjust="spacing">2008</text>
<text x="535.7" y="655" fill="#000" text-anchor="start" font-size="16" textLength="21.8" lengthAdjust="spacing">05</text>
<text x="572.4" y="655" fill="#000" text-anchor="start" font-size="16" textLength="121.02" lengthAdjust="spacing">15T06:01:13.8)</text>
<rect x="523" y="649" width="11" height="1" fill="#000" stroke="none" shape-rendering="crispEdges"/>
<rect x="558" y="649" width="10" height="1" fill="#000" stroke="none" shape-rendering="crispEdges"/>
<text x="134.9" y="632.6" fill="#000" text-anchor="start" font-size="16">0</text>
<text x="252.0" y="632.6" fill="#000" text-anchor="start" font-size="16" textLength="31.05" lengthAdjust="spacing">200</text>
<text x="378.4" y="632.6" fill="#000" text-anchor="start" font-size="16" textLength="30.6" lengthAdjust="spacing">400</text>
<text x="505.0" y="632.6" fill="#000" text-anchor="start" font-size="16" textLength="30.9" lengthAdjust="spacing">600</text>
<text x="631.6" y="632.6" fill="#000" text-anchor="start" font-size="16" textLength="29.7" lengthAdjust="spacing">800</text>
<text x="48.0" y="97.7" fill="#000" text-anchor="start" font-size="16" textLength="21.8" lengthAdjust="spacingAndGlyphs">0.1</text>
<text x="37.6" y="121.8" fill="#000" text-anchor="start" font-size="16" textLength="35.48" lengthAdjust="spacing">0.05</text>
<text x="63.4" y="145.9" fill="#000" text-anchor="start" font-size="16">0</text>
<rect x="25" y="165" width="10" height="1" fill="#000" stroke="none" shape-rendering="crispEdges"/>
<text x="37.6" y="170.9" fill="#000" text-anchor="start" font-size="16" textLength="35.48" lengthAdjust="spacing">0.05</text>
<text x="48.0" y="193.8" fill="#000" text-anchor="start" font-size="16" textLength="24.88" lengthAdjust="spacing">0.2</text>
<text x="48.0" y="228.8" fill="#000" text-anchor="start" font-size="16" textLength="21.8" lengthAdjust="spacingAndGlyphs">0.1</text>
<text x="63.4" y="263.8" fill="#000" text-anchor="start" font-size="16">0</text>
<text x="48.0" y="300.0" fill="#000" text-anchor="start" font-size="16" textLength="21.8" lengthAdjust="spacingAndGlyphs">0.1</text>
<text x="37.6" y="328.8" fill="#000" text-anchor="start" font-size="16" textLength="35.48" lengthAdjust="spacing">0.05</text>
<text x="63.4" y="357.8" fill="#000" text-anchor="start" font-size="16">0</text>
<rect x="25" y="380" width="10" height="1" fill="#000" stroke="none" shape-rendering="crispEdges"/>
<text x="37.6" y="385.9" fill="#000" text-anchor="start" font-size="16" textLength="35.48" lengthAdjust="spacing">0.05</text>
<text x="37.6" y="424.7" fill="#000" text-anchor="start" font-size="16" textLength="35.48" lengthAdjust="spacing">0.05</text>
<text x="63.4" y="453.8" fill="#000" text-anchor="start" font-size="16">0</text>
<rect x="25" y="478" width="10" height="1" fill="#000" stroke="none" shape-rendering="crispEdges"/>
<text x="37.6" y="483.8" fill="#000" text-anchor="start" font-size="16" textLength="35.48" lengthAdjust="spacing">0.05</text>
<text x="47.6" y="511.6" fill="#000" text-anchor="start" font-size="16" textLength="25.48" lengthAdjust="spacing">0.4</text>
<text x="48.0" y="550.9" fill="#000" text-anchor="start" font-size="16" textLength="24.88" lengthAdjust="spacing">0.2</text>
<text x="63.4" y="590.8" fill="#000" text-anchor="start" font-size="16">0</text>
<text x="636.4" y="101.0" fill="#000" text-anchor="start" font-size="16" textLength="17.3" lengthAdjust="spacingAndGlyphs">15</text>
<rect x="656" y="95" width="10" height="1" fill="#000" stroke="none" shape-rendering="crispEdges"/>
<text x="669.3" y="101.0" fill="#000" text-anchor="start" font-size="16" textLength="19.8" lengthAdjust="spacing">25</text>
<text x="698.0" y="101.0" fill="#000" text-anchor="start" font-size="16" textLength="28.32" lengthAdjust="spacing">keV</text>
<text x="634.9" y="209.6" fill="#f00" text-anchor="start" font-size="16" textLength="19.8" lengthAdjust="spacing">25</text>
<rect x="656" y="204" width="10" height="1" fill="#f00" stroke="none" shape-rendering="crispEdges"/>
<text x="669.3" y="209.6" fill="#f00" text-anchor="start" font-size="16" textLength="20.0" lengthAdjust="spacing">50</text>
<text x="698.0" y="209.6" fill="#f00" text-anchor="start" font-size="16" textLength="28.32" lengthAdjust="spacing">keV</text>
<text x="629.8" y="318.2" fill="#0f0" text-anchor="start" font-size="16" textLength="19.8" lengthAdjust="spacing">50</text>
<rect x="650" y="313" width="11" height="1" fill="#0f0" stroke="none" shape-rendering="crispEdges"/>
<text x="665.5" y="318.2" fill="#0f0" text-anchor="start" font-size="16" textLength="29.1" lengthAdjust="spacing">100</text>
<text x="703.7" y="318.2" fill="#0f0" text-anchor="start" font-size="16" textLength="27.72" lengthAdjust="spacing">keV</text>
<text x="625.4" y="426.6" fill="#00f" text-anchor="start" font-size="16" textLength="29.1" lengthAdjust="spacing">100</text>
<rect x="656" y="421" width="10" height="1" fill="#00f" stroke="none" shape-rendering="crispEdges"/>
<text x="669.3" y="426.6" fill="#00f" text-anchor="start" font-size="16" textLength="31.05" lengthAdjust="spacing">350</text>
<text x="709.0" y="426.6" fill="#00f" text-anchor="start" font-size="16" textLength="27.47" lengthAdjust="spacingAndGlyphs">keV</text>
<text x="630.7" y="535.3" fill="#f0f" text-anchor="start" font-size="16" textLength="18.0" lengthAdjust="spacing">15</text>
<rect x="650" y="530" width="11" height="1" fill="#f0f" stroke="none" shape-rendering="crispEdges"/>
<text x="663.7" y="535.3" fill="#f0f" text-anchor="start" font-size="16" textLength="31.8" lengthAdjust="spacing">350</text>
<text x="703.7" y="535.3" fill="#f0f" text-anchor="start" font-size="16" textLength="27.72" lengthAdjust="spacing">keV</text>
<g transform="translate(22.0 404.9) rotate(-90)"><text x="0" y="0" font-size="16" textLength="130.1" lengthAdjust="spacing">Counts/sec/det</text></g></svg>
</body>
</html>
